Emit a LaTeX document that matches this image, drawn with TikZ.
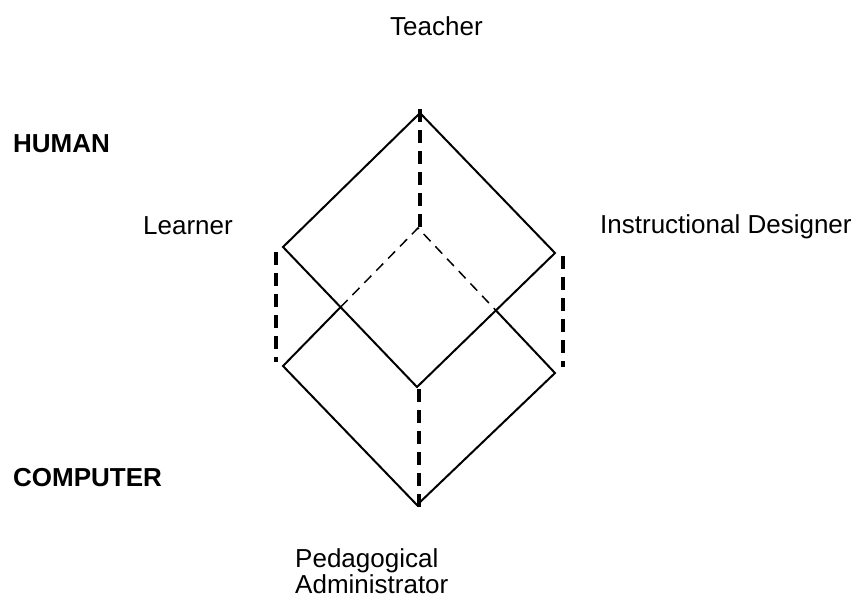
\documentclass[tikz,border=0pt]{standalone}
\usepackage{fontspec}
\setmainfont{Liberation Sans}
\tikzset{
  solidline/.style={line width=2pt, line join=miter},
  thickdash/.style={line width=3.5pt, dash pattern=on 13pt off 8pt},
  thindash/.style={line width=1.5pt, dash pattern=on 10pt off 7pt},
  lbl/.style={anchor=base west, inner sep=0pt, font=\fontsize{26}{26}\selectfont},
  blbl/.style={anchor=base west, inner sep=0pt, font=\fontsize{26}{26}\selectfont\bfseries}
}
\begin{document}
\begin{tikzpicture}[x=1pt,y=-1pt]
\useasboundingbox (0,0) rectangle (860,598);
% top diamond
\coordinate (T) at (420,113);
\coordinate (L) at (283,247);
\coordinate (R) at (555,253);
\coordinate (B) at (417,387);
% lower diamond
\coordinate (C) at (418,228);
\coordinate (LL) at (283,366);
\coordinate (RR) at (555,373);
\coordinate (BB) at (417,505);
% vertical dashed ends
\coordinate (vt1) at (420,109);
\coordinate (vt2) at (420,228);
\coordinate (vb1) at (419,389);
\coordinate (vb2) at (419,507);
\coordinate (vl1) at (276,252);
\coordinate (vl2) at (276,362);
\coordinate (vr1) at (563,256);
\coordinate (vr2) at (563,367);

\draw[solidline] (T) -- (R) -- (B) -- (L) -- cycle;
\coordinate (P1) at (intersection of C--LL and L--B);
\coordinate (P2) at (intersection of C--RR and R--B);
\draw[solidline] (P1) -- (LL) -- (BB) -- (RR) -- (P2);
\draw[thindash] (P1) -- (C) -- (P2);

\draw[thickdash] (vt1) -- (vt2);
\draw[thickdash] (vb1) -- (vb2);
\draw[thickdash] (vl1) -- (vl2);
\draw[thickdash] (vr1) -- (vr2);

\node[lbl] (teacher) at (390,35) {Teacher};
\node[blbl] (human) at (13,152) {HUMAN};
\node[lbl] (learner) at (143,234) {Learner};
\node[lbl] (designer) at (600,233) {Instructional Designer};
\node[blbl] (computer) at (13,486) {COMPUTER};
\node[lbl] (peda) at (295,567) {Pedagogical};
\node[lbl] (admin) at (295,593) {Administrator};
\end{tikzpicture}
\end{document}
